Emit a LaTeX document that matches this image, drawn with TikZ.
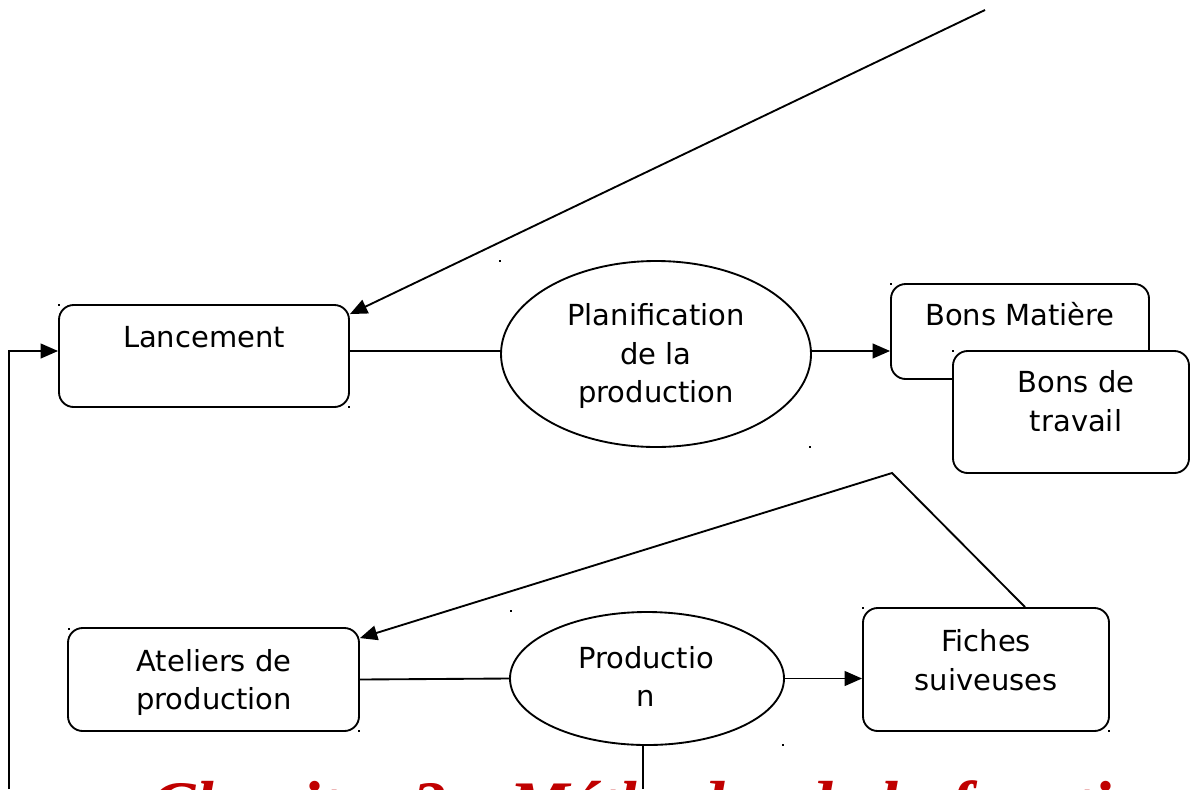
\documentclass[tikz,border=0pt]{standalone}
\usepackage{fontspec}
\setmainfont{DejaVu Sans}
\newfontfamily\chapfont{Liberation Serif}
\usetikzlibrary{shapes.geometric,arrows.meta,calc}
\definecolor{chapred}{HTML}{C00000}
\begin{document}
\begin{tikzpicture}[x=0.75pt,y=-0.75pt,
  shp/.style={draw,line width=1.4pt,inner sep=0pt},
  rbox/.style={shp,rectangle,rounded corners=11pt,fill=white},
  oval/.style={shp,ellipse},
  lbl/.style={inner sep=0pt,align=center,font=\fontsize{21.75}{29}\selectfont},
  ln/.style={line width=1.4pt},
  arr/.style={ln,-{Triangle[length=13pt,width=11pt]}},
  dot/.style={fill=black}]
\useasboundingbox (0,0) rectangle (1191,789);

% shapes
\node[rbox,minimum width=217.5pt,minimum height=76.5pt] (lanc) at (204,356) {};
\node[oval,minimum width=232.5pt,minimum height=139.5pt] (plan) at (656,354) {};
\node[rbox,minimum width=193.5pt,minimum height=71.25pt] (bm) at (1020,331.5) {};
\node[rbox,minimum width=177pt,minimum height=91.5pt] (bt) at (1071,412) {};
\node[rbox,minimum width=218.25pt,minimum height=77.25pt] (atel) at (213.5,679.5) {};
\node[oval,minimum width=205.5pt,minimum height=99.75pt] (prod) at (647,678.5) {};
\node[rbox,minimum width=184.5pt,minimum height=92.25pt] (fich) at (986,669.5) {};

% texts
\node[lbl,anchor=base] (tlanc) at (204,347) {Lancement};
\node[lbl] (tplan) at (656,356) {Planification\\de la\\production};
\node[lbl,anchor=base] (tbm) at (1020,325) {Bons Matière};
\node[lbl] (tbt) at (1076,401.5) {Bons de\\travail};
\node[lbl] (tatel) at (214,682.5) {Ateliers de\\production};
\node[lbl] (tprod) at (646,676.5) {Productio\\n};
\node[lbl] (tfich) at (986,660) {Fiches\\suiveuses};

% connectors
\coordinate (topin) at (985,10);
\coordinate (bend) at (892,473);
\coordinate (pbot) at (643,789);
\coordinate (lbot) at (9,789);
\draw[arr] (topin) -- ([yshift=-7.5pt]lanc.north east);
\draw[ln] ([yshift=2.25pt]plan.west) -- ([yshift=2.25pt]plan.west -| lanc.east);
\draw[arr] ([yshift=2.25pt]plan.east) -- ([yshift=2.25pt]plan.east -| bm.west);
\draw[arr] ([xshift=29.25pt]fich.north) -- (bend) -- ([yshift=-8.25pt]atel.north east);
\draw[ln] (atel.east) -- (prod.west);
\draw[arr] (prod.east) -- (prod.east -| fich.west);
\draw[ln] (prod.south -| pbot) -- (pbot);
\draw[arr] (lbot) |- ([yshift=3.75pt]lanc.west);

% tiny marks
\foreach \p in {(59,305),(349,407),(500,261),(810,447),(891,284),(953,351),(69,629),(359,731),(511,611),(783,745),(863,608),(1109,731)}
  \fill[dot] \p ++(-1,-1) rectangle ++(2,2);

% chapter title (cut by the page edge, only its top shows)
\node[anchor=base west,inner sep=0pt,text=chapred,font=\chapfont\bfseries\itshape\fontsize{51}{60}\selectfont] (chap) at (150,828) {Chapitre 3 : Méthodes de la fonction};
\end{tikzpicture}
\end{document}
